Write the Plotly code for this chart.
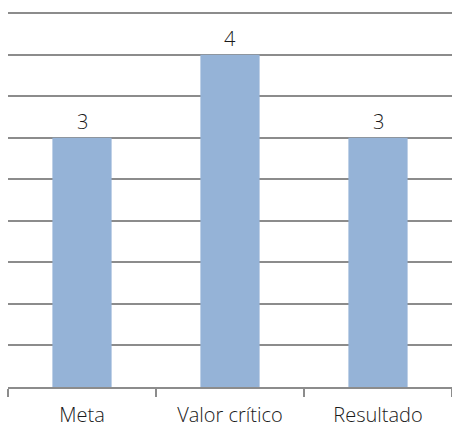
import plotly.graph_objects as go

categories = ["Meta", "Valor crítico", "Resultado"]
values = [3, 4, 3]
labels = ["3", "4", "3"]

fig = go.Figure(go.Bar(
    x=categories, y=values,
    marker=dict(color="#95b3d7", line=dict(width=0)),
    cliponaxis=False,
))
for c, v, t in zip(categories, values, labels):
    fig.add_annotation(x=c, y=v, text=t, showarrow=False, yanchor="bottom",
                       yshift=1, font=dict(family="Open Sans", size=20, color="#1a1a1a", weight=300))

fig.update_layout(
    width=452, height=427,
    margin=dict(l=8, r=0, t=12, b=40),
    paper_bgcolor="white", plot_bgcolor="white",
    bargap=0.6, showlegend=False,
    font=dict(family="Open Sans", size=20, color="#1a1a1a"),
    xaxis=dict(showline=True, linecolor="#8c8c8c", linewidth=1.5,
               ticks="outside", tickson="boundaries", ticklen=8,
               tickcolor="#8c8c8c", tickwidth=1.5, showgrid=False,
               ticklabelstandoff=9, automargin=False,
               tickfont=dict(family="Open Sans", size=20, color="#1a1a1a", weight=300)),
    yaxis=dict(range=[0, 4.515], tickvals=[0.5, 1, 1.5, 2, 2.5, 3, 3.5, 4, 4.5],
               showgrid=True, gridcolor="#8c8c8c",
               gridwidth=1.5, showticklabels=False, zeroline=False,
               showline=False),
)
fig.write_html("out.html")
